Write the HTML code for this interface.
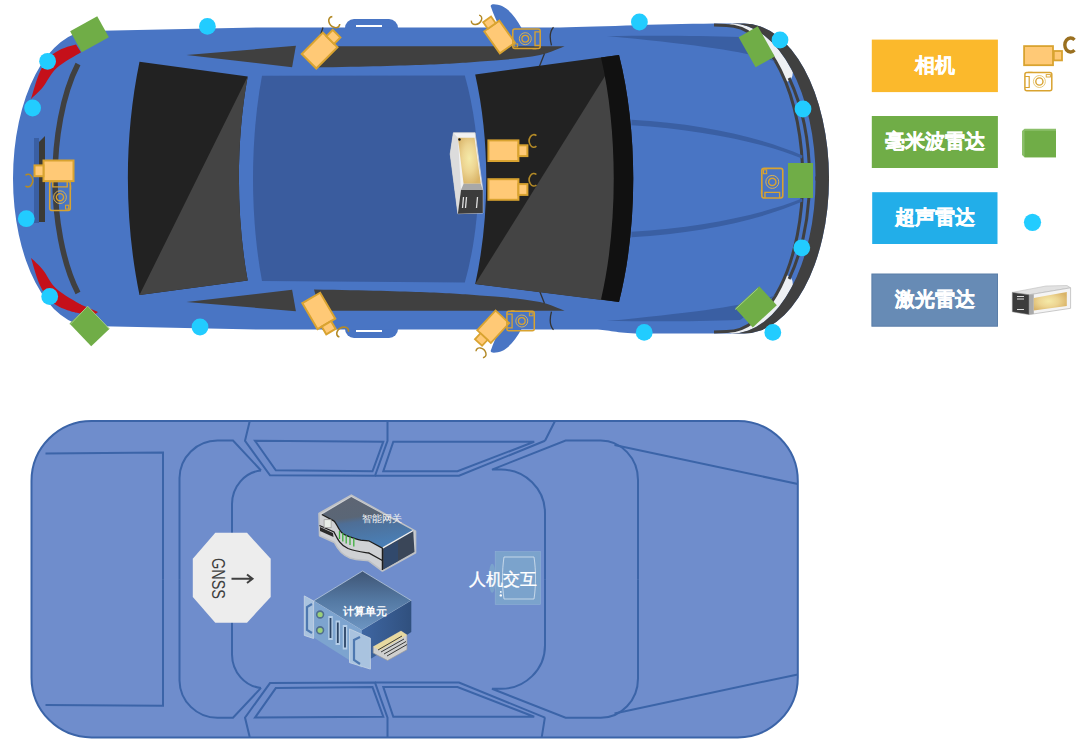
<!DOCTYPE html>
<html><head><meta charset="utf-8">
<style>
html,body{margin:0;padding:0;background:#fff;width:1080px;height:745px;overflow:hidden}
svg{position:absolute;left:0;top:0;display:block}
.lg{position:absolute;color:#fff;font-family:"Liberation Sans",sans-serif;font-weight:bold;font-size:19px;display:flex;align-items:center;justify-content:center}
</style></head><body>
<svg width="1080" height="745" viewBox="0 0 1080 745" font-family="Liberation Sans, sans-serif">
<defs>
<path id="bodyp" d="M90,31 L260,27.4 L560,27.4 C600,26.6 670,23.4 725,23.4 L744,23.4 A85,155.1 0 0 1 829,178.5 A85,155.1 0 0 1 744,333.6 L640,333.6 C615,333.4 610,329.8 595,329.6 L260,329.6 L90,326 A77,147.5 0 0 1 13,178.5 A77,147.5 0 0 1 90,31 Z"/>

<g id="vcam">
  <rect x="-15" y="-10.3" width="30" height="20.6" fill="#FFC976" stroke="#D9A330" stroke-width="2"/>
  <rect x="15" y="-5.4" width="9" height="10.8" fill="#FFC976" stroke="#D9A330" stroke-width="2"/>
  <path d="M33,-15 A4.6,6.3 0 1 0 33,-4.5" fill="none" stroke="#B38A27" stroke-width="1.6"/>
</g>
<g id="pcam" fill="none" stroke="#D9A330">
  <rect x="-13.7" y="-9.7" width="27.4" height="19.4" rx="2" stroke-width="1.5"/>
  <circle cx="-1.2" cy="0" r="6" stroke-width="0.9" stroke="#DDB455"/>
  <circle cx="-1.2" cy="0" r="3.4" stroke-width="1.3"/>
  <path d="M13.7,-6.8 h-5.2 v13.6 h5.2" stroke-width="1.3"/>
  <rect x="-12.4" y="5.2" width="3.6" height="3" stroke-width="1"/>
  <path d="M6,10 h4" stroke-width="1.2"/>
</g>
</defs>
<!-- mirrors -->
<path id="mirr" d="M491,7 C489,3 497,4 502,6 C510,10 516,18 521.5,28 L500,28 C496,20 493,13 491,7 Z" fill="#4975C4"/>
<use href="#mirr" transform="translate(0,357) scale(1,-1)"/>
<!-- door handle bumps -->
<rect x="345" y="19" width="53" height="20" rx="9" fill="#4975C4"/>
<rect x="345" y="318" width="53" height="20" rx="9" fill="#4975C4"/>
<line x1="356" y1="26" x2="382" y2="26" stroke="#fff" stroke-width="2"/>
<line x1="356" y1="331" x2="382" y2="331" stroke="#fff" stroke-width="2"/>
<!-- body -->
<use href="#bodyp" fill="#4975C4"/>
<g id="fronthalf">
  <path d="M726.6,25.4 L732,23.4 A83.6,155.1 0 0 1 792.8,72 Q793,81 785.6,82 A76.1,153.1 0 0 0 726.6,25.4 Z" fill="#EEF0F3"/>
  <path d="M744,23.4 A85,155.1 0 0 1 829,178.5 L815.6,178.5 A83.6,155.1 0 0 0 732,23.4 Z" fill="#404040"/>
  <path d="M714,25 L726.6,25.4 A76.1,153.1 0 0 1 802.7,178.5" fill="none" stroke="#404040" stroke-width="3"/>
  <path d="M789.1,78 A83.5,153.5 0 0 1 809.5,178.5" fill="none" stroke="#404040" stroke-width="3"/>
  <path d="M607,36 C650,35.5 700,35.5 740,37 L776,62 C750,52 700,45 607,36 Z" fill="#3A5FA3"/>
  <path d="M631.5,119.8 C700,123.5 760,137 802.5,155.4 L802,158.4 C760,141.5 700,129.5 631.5,125.2 Z" fill="#3A5FA3"/>
</g>
<use href="#fronthalf" transform="translate(0,357) scale(1,-1)"/>
<path d="M815.3,176.5 h13.4 v4 h-13.4 Z M801.2,176.5 h3 v4 h-3 Z M808,176.5 h3 v4 h-3 Z" fill="#404040"/>
<!-- rear dark stripe -->
<path d="M78,64 C62,95 55,140 55,178.5 C55,217 62,262 78,293" fill="none" stroke="#404040" stroke-width="5.5"/>
<!-- red tail lights -->
<path id="redl" d="M76,44.6 C69,46.1 59.7,49.2 53.7,53.6 C47.8,58 44.1,63.4 40.3,71 C36.5,78.6 32.5,94.5 30.9,99.2 C32.9,97.2 38.8,92.2 43,87.1 C47.2,81.9 50.1,74.1 56.4,68.3 C62.7,62.5 76.9,55 81,52.3 Z" fill="#C5101A"/>
<use href="#redl" transform="translate(0,357) scale(1,-1)"/>
<path d="M70,311 L92,316.5 L98,312 L80,304.3 Z" fill="#C5101A"/>
<!-- rear license recess -->
<rect x="34" y="138" width="5" height="85" fill="#3A5FA3"/>
<path d="M39,142 L45,136 L45,222 L39,222 Z" fill="#3B3A36"/>
<!-- rear window -->
<path d="M139.5,61.8 L247.7,76.5 C236,140 236,217 247.7,280.6 L139.5,294.9 C124,220 124,137 139.5,61.8 Z" fill="#222"/>
<path d="M139.5,294.9 L247.7,76.5 C236,140 236,217 247.7,280.6 Z" fill="#444"/>
<!-- roof -->
<path d="M262,75.7 L464.8,75.5 C483,140 483,217 464.8,282.6 L262,281 C250,217 250,140 262,75.7 Z" fill="#3A5C9E"/>
<!-- side windows -->
<path id="rwin" d="M186.5,55 L295.9,45.8 L292.1,67.3 Z" fill="#404040"/>
<use href="#rwin" transform="translate(0,357) scale(1,-1)"/>
<path id="fwin" d="M320,46.3 L564.6,46.3 C555,50 548,53.5 540,55 C520,59 500,60 480,61.4 C450,64 420,65.5 314,67.4 Z" fill="#404040"/>
<path id="seam" d="M553.5,27.2 C550,31 549.5,38 551.5,45.3 M544.5,53.4 L539.4,66.5 M323,27.5 L320.8,34" fill="none" stroke="#333" stroke-width="1.3"/>
<use href="#fwin" transform="translate(0,357) scale(1,-1)"/><use href="#seam" transform="translate(0,357) scale(1,-1)"/>
<!-- windshield -->
<path d="M475.2,74.5 L619,55 C638,130 638,227 619,302 L475.2,284 C490,217 490,140 475.2,74.5 Z" fill="#222"/>
<path d="M475.2,284 L605,76 C620,140 620,217 602,300 Z" fill="#444"/>
<path d="M601,57.5 L619,55 C638,130 638,227 619,302 L601,299.5 C618,227 618,130 601,57.5 Z" fill="#111"/>


<!-- ===== sensors top car ===== -->
<g fill="#22CCFF">
<circle cx="47.6" cy="61.3" r="8.4"/><circle cx="32.6" cy="108" r="8.4"/>
<circle cx="26.3" cy="218.7" r="8.4"/><circle cx="49.7" cy="296.5" r="8.4"/>
<circle cx="207.4" cy="26.4" r="8.4"/><circle cx="200" cy="327" r="8.4"/>
<circle cx="639.4" cy="22" r="8.4"/><circle cx="644.2" cy="332.4" r="8.4"/>
<circle cx="780" cy="40" r="8.4"/><circle cx="803" cy="109" r="8.4"/>
<circle cx="801.8" cy="247.8" r="8.4"/><circle cx="772.8" cy="332.4" r="8.4"/>
</g>
<g fill="#70AD47">
<rect x="-15.5" y="-12" width="31" height="24" transform="translate(89.5,34.3) rotate(-29)"/>
<rect x="-15.7" y="-12.5" width="31.5" height="25" transform="translate(89.4,326.2) rotate(46.5)"/>
<rect x="-17.3" y="-11" width="34.6" height="22" transform="translate(756.7,46.8) rotate(60.6)"/>
<rect x="788" y="163" width="25" height="35"/>
<rect x="-16.3" y="-13" width="32.6" height="26" transform="translate(756,306.8) rotate(-42.5)"/>
</g>
<path d="M70.2,324.5 L87.6,306.2 L109.6,329" fill="none" stroke="#A8D08A" stroke-width="0.9"/>
<path d="M735.2,309.5 L757.8,288.5" fill="none" stroke="#A8D08A" stroke-width="0.9"/>
<use href="#vcam" transform="translate(58.5,170.8) rotate(180)"/>
<use href="#pcam" transform="translate(60,195.9) rotate(-90) scale(1.06)"/>
<use href="#vcam" transform="translate(319.6,50.6) rotate(-45)"/>
<use href="#vcam" transform="translate(318.8,310.9) rotate(59.6)"/>
<use href="#vcam" transform="translate(499.6,37) rotate(-125.4) scale(0.9)"/>
<use href="#vcam" transform="translate(493.2,326.7) rotate(132.8) scale(0.9)"/>
<use href="#pcam" transform="translate(526.5,38.7)"/>
<use href="#pcam" transform="translate(520.6,321) rotate(180)"/>
<use href="#pcam" transform="translate(772.3,183.2) rotate(90) scale(1.08)"/>
<use href="#vcam" transform="translate(503.4,150.7)"/>
<use href="#vcam" transform="translate(503.4,189.5)"/>
<!-- lidar on roof -->
<defs>
 <radialGradient id="lidy" cx="0.5" cy="0.45" r="0.6">
  <stop offset="0" stop-color="#F5EAA8"/><stop offset="0.5" stop-color="#EDD592"/><stop offset="1" stop-color="#D9B468"/>
 </radialGradient>
 <radialGradient id="lidy2" cx="0.45" cy="0.5" r="0.6">
  <stop offset="0" stop-color="#F5EAA8"/><stop offset="0.5" stop-color="#EDD592"/><stop offset="1" stop-color="#D9B468"/>
 </radialGradient>
</defs>
<g>
 <path d="M453.4,132.7 L475.1,132.7 L482.8,190 L482.8,213 L457.9,213.7 L450.2,154 Z" fill="#F2F2F2" stroke="#D0D0D0" stroke-width="0.8"/>
 <path d="M453.4,132.7 L457.9,137.8 L461,190 L457.9,213.7 L450.2,154 Z" fill="#DCDCDC"/>
 <path d="M457.9,137.8 L474.5,137.8 L480.8,183.7 L463.6,183.7 Z" fill="url(#lidy)"/>
 <path d="M463.6,183.7 L480.8,183.7 L482.8,190 L461,190 Z" fill="#A8A8A8"/>
 <path d="M461,190 L482.8,190 L482.8,213 L457.9,213.7 Z" fill="#3C3C3C"/>
 <path d="M463.5,197 L462.5,208 M466.5,197 L465.5,208 M477.5,197 L476.5,208" stroke="#E0E0E0" stroke-width="1.3"/>
 <circle cx="459.5" cy="139.5" r="1.2" fill="#111"/>
</g>
<!-- ===== legend ===== -->
<rect x="871.8" y="39.6" width="126.1" height="52.5" fill="#FBB92C"/>
<rect x="871.8" y="116" width="126.1" height="52" fill="#70AD47"/>
<rect x="872.2" y="192.2" width="125.3" height="51.8" fill="#22AEE9"/>
<rect x="871.9" y="274" width="125.6" height="52.2" fill="#678BB5" stroke="#5A7EA8" stroke-width="1"/>
<g fill="#fff" font-weight="bold" font-size="20.2" text-anchor="middle" stroke="#fff" stroke-width="0.4">
<text x="934.8" y="71.5">相机</text>
<text x="934.8" y="148">毫米波雷达</text>
<text x="934.8" y="224">超声雷达</text>
<text x="934.8" y="306">激光雷达</text>
</g>
<rect x="1024.1" y="46.1" width="28.9" height="19.1" fill="#FFC976" stroke="#D9A330" stroke-width="1.8"/>
<rect x="1053.8" y="51" width="8.2" height="9.4" fill="#FFC976" stroke="#D9A330" stroke-width="1.8"/>
<path d="M1074.5,39.8 A5.8,7 0 1 0 1074.5,50.2" fill="none" stroke="#9A7020" stroke-width="3.4"/>
<g fill="none" stroke="#D9A330">
 <rect x="1024.9" y="72.6" width="26.9" height="18.2" rx="2" stroke-width="1.5"/>
 <circle cx="1039.4" cy="81.5" r="6" stroke-width="0.8" stroke="#E2BC60"/>
 <circle cx="1039.4" cy="81.5" r="3.6" stroke-width="1.4"/>
 <path d="M1025,76.5 h4.2 v11 h-4.2" stroke-width="1.2"/>
 <rect x="1046.2" y="74.6" width="4.2" height="2.4" stroke-width="0.9"/>
 <path d="M1028,72.3 h4.5" stroke-width="1"/>
</g>
<path d="M1022,131 L1024.5,128.8 L1056,128.8 L1056,157.3 L1024.5,157.3 L1022,155 Z" fill="#8BBF6A"/>
<rect x="1024.5" y="130.8" width="31.5" height="26.5" fill="#70AD47"/>
<circle cx="1032.5" cy="222.3" r="8.6" fill="#22CCFF"/>
<g>
 <path d="M1012.3,292.4 L1046,286 L1067,285.5 L1070.6,287.8 L1029,294.8 Z" fill="#E2E2E2" stroke="#BDBDBD" stroke-width="0.6"/>
 <path d="M1029,294.8 L1070.6,287.8 L1070.6,308.3 L1029,314.6 Z" fill="#F4F4F4" stroke="#BDBDBD" stroke-width="0.8"/>
 <path d="M1029,294.8 L1033.8,294.2 L1033.8,314 L1029,314.6 Z" fill="#AAAAAA"/>
 <path d="M1033.8,298 L1066.8,292 L1066.8,306 L1033.8,310.4 Z" fill="url(#lidy2)"/>
 <path d="M1012.3,292.4 L1029,294.8 L1029,314.6 L1012.3,311.8 Z" fill="#3C3C3C" stroke="#888" stroke-width="0.5"/>
 <path d="M1017,296.5 h7 M1017,299 h7 M1017,309.5 h7" stroke="#ddd" stroke-width="1.2"/>
</g>
<!-- ============ BOTTOM CAR ============ -->
<rect x="31.5" y="421" width="766.3" height="316.4" rx="60" ry="60" fill="#6F8DCC" stroke="#3B64A8" stroke-width="2"/>
<g id="bhalf" fill="none" stroke="#3B64A8" stroke-width="2" stroke-linejoin="miter">
  <path d="M45.5,453.4 L163,452.6 L163,579.2"/>
  <path d="M179.5,579.2 L179.5,478 A38,38 0 0 1 217.5,440.6 L233,440.6 L261,470.5"/>
  <path d="M232,579.2 L232,504 A32,34 0 0 1 261,470.5"/>
  <path d="M249.7,421.3 L245,440.8 L270,475.3 L375,475.8 L387.5,440.8 L387.5,421.3"/>
  <path d="M255,440.8 L383.3,441.7 L372.5,471.3 L275.8,470.3 Z"/>
  <path d="M393.3,441.7 L534.2,441.7 L457.5,471.3 L383.3,471.3 Z"/>
  <path d="M545,440.8 L459,475.8 L375,475.8"/>
  <path d="M545,579.2 L545,513 A44,43.4 0 0 0 501,469.6 L492,469.6 L565.6,440.6 L600.7,440.6 A37.3,39.4 0 0 1 638,480 L638,579.2"/>
  <path d="M614.5,445 L797.8,484"/>
</g>
<use href="#bhalf" transform="translate(0,1158.4) scale(1,-1)"/>
<path d="M555,421 L545,440.8 M544.9,717.4 L541.7,737.4" fill="none" stroke="#3B64A8" stroke-width="2"/>
<!-- GNSS -->
<polygon points="215.3,532.8 247,532.8 270.7,558.8 270.7,596.9 247,622.7 215.3,622.7 192.8,596.9 192.8,558.8" fill="#EDEDED"/>
<g transform="translate(217.8,578.5) rotate(90)">
<text x="0" y="6" text-anchor="middle" font-size="17.5" fill="#404040" textLength="41" lengthAdjust="spacingAndGlyphs">GNSS</text>
</g>
<path d="M231.5,578.8 L252,578.8 M247,574.5 L252.5,578.8 L247,583" fill="none" stroke="#404040" stroke-width="2"/>

<!-- gateway -->
<defs>
 <linearGradient id="gwtop" x1="0" y1="0" x2="0.25" y2="1">
  <stop offset="0" stop-color="#5E6573"/><stop offset="0.45" stop-color="#5A6676"/><stop offset="0.55" stop-color="#4E6E96"/><stop offset="1" stop-color="#4A7EB4"/>
 </linearGradient>
 <linearGradient id="cutop" x1="0" y1="0" x2="0" y2="1">
  <stop offset="0" stop-color="#3F5575"/><stop offset="0.5" stop-color="#5479A3"/><stop offset="1" stop-color="#6D95C2"/>
 </linearGradient>
 <linearGradient id="curight" x1="0" y1="0" x2="1" y2="0">
  <stop offset="0" stop-color="#3E66A2"/><stop offset="1" stop-color="#30507E"/>
 </linearGradient>
</defs>
<g>
 <path d="M351.3,495.1 L319,513.4 L319.6,535.7 L334.4,542.5 C338,550 342,555 350,558 C358,560.5 364,560 368.7,560.8 L382.4,571 L415.5,552.8 L415.5,531.1 Z" fill="#CFD1D4" stroke="#BEC1C5" stroke-width="1.6" stroke-linejoin="round"/>
 <path d="M351.3,497 L413.2,530.5 L382.4,548.2 L368.7,540.8 C365,540 362,540.5 360.7,540.2 C350,537 344,536 341.3,532.2 C337,527 336,522 333.8,520.8 L321.8,514.5 Z" fill="url(#gwtop)"/>
 <path d="M382.4,548.2 L413.2,530.5 L414.5,552 L382.4,570 Z" fill="#3A4658"/>
 <path d="M384,549 L398,541 L398,561 L384,569 Z" fill="#2F4A72" opacity="0.8"/>
 <path d="M382.4,548.2 L413.2,530.5" stroke="#F0F0F0" stroke-width="1.4"/>
 <path d="M321.8,514.5 L333.8,520.8 C336,522 337,527 341.3,532.2 C344,536 350,537 360.7,540.2 C362,540.5 365,540 368.7,540.8 L382.4,548.2 L382.4,570" fill="none" stroke="#1E1E1E" stroke-width="1.3"/>
 <path d="M319.5,525.5 L334,532 C337,538 340,545 348,548.5 C356,551.5 362,552 368.7,553 L382.4,560.5" fill="none" stroke="#1E1E1E" stroke-width="1.3"/>
 <path d="M320,527 L333,533 L333.5,537 L320,531 Z" fill="#2A2A2A"/>
 <path d="M339.5,531 v8 M342.8,533 v8.5 M346.2,535 v8.5 M350,536.5 v8.5 M353.8,538 v8.5" stroke="#3DAF3D" stroke-width="1.3"/>
 <rect x="324.1" y="519.7" width="7" height="8" fill="#E8EEE8" stroke="#999" stroke-width="0.7"/>
 <text x="382" y="521.8" font-size="10.3" fill="#F2F2F2" text-anchor="middle">智能网关</text>
</g>
<!-- compute unit -->
<g>
 <path d="M362.5,571 L313.6,600.9 L361.7,630.3 L411.3,600.6 Z" fill="url(#cutop)" stroke="#B5C6DA" stroke-width="0.8"/>
 <path d="M361.7,630.3 L411.3,600.6 L411.3,632 L371.8,658.3 L361.7,660 Z" fill="url(#curight)"/>
 <path d="M313.6,600.9 L361.7,630.3 L361.7,668 L313.6,637.5 Z" fill="#7DA4CF"/>
 <path d="M304.3,595.9 L313.6,601 L313.6,638.5 L304.3,635.4 Z" fill="#A9C3DF" stroke="#C9D7E6" stroke-width="0.8"/>
 <path d="M312,604 L307,607 L307,630 L312,633" fill="none" stroke="#4D78B0" stroke-width="2.2"/>
 <path d="M349.5,628.9 L370.4,638.2 L370.4,669.1 L349.5,662.6 Z" fill="#A9C3DF" stroke="#C9D7E6" stroke-width="0.8"/>
 <path d="M360,637 L354,640 L354,660 L360,664" fill="none" stroke="#4D78B0" stroke-width="2.2"/>
 <circle cx="320.1" cy="614.5" r="3.4" fill="#9BD07A" stroke="#4F6E8E" stroke-width="1.6"/>
 <circle cx="320.1" cy="630.3" r="3.4" fill="#9BD07A" stroke="#4F6E8E" stroke-width="1.6"/>
 <g stroke="#B4CDE8" stroke-width="4.5"><path d="M330.5,616 L330.5,640 M337.8,620.5 L337.8,645 M345,625 L345,649.5"/></g>
 <g stroke="#2C4566" stroke-width="1.8"><path d="M330.5,618 L330.5,638 M337.8,622.5 L337.8,643 M345,627 L345,647.5"/></g>
 <path d="M373.2,646.8 L401,631 L407,635 L407,649.7 L387.6,660.5 L373.2,653 Z" fill="#CFCFCF" stroke="#9A9A9A" stroke-width="0.7"/>
 <path d="M373.2,646.8 L401,631 L407,635 L380,650.5 Z" fill="#E8D9A0"/>
 <path d="M378,650 L402,636 M381,652 L404,639 M384,654 L406,641.5 M387,656 L407,644.5" stroke="#3A3A3A" stroke-width="1"/>
 <text x="364.6" y="615.3" font-size="10.5" font-weight="bold" fill="#fff" text-anchor="middle">计算单元</text>
</g>
<!-- HMI -->
<g>
 <rect x="495.2" y="551.6" width="45.2" height="52.9" fill="#7BA3CC" stroke="#8FB0D4" stroke-width="0.6"/>
 <ellipse cx="492.2" cy="578.3" rx="3.5" ry="14.5" fill="#7BA3CC"/>
 <path d="M504,557 L534,557 C536,570 536,586 534,599 L504,599 C502,586 502,570 504,557 Z" fill="none" stroke="#D8E4F0" stroke-width="0.8"/>
 <circle cx="500.8" cy="591.9" r="0.9" fill="#fff"/><circle cx="500.8" cy="595.4" r="1.2" fill="#fff"/>
 <text x="502.5" y="585" font-size="17" fill="#fff" text-anchor="middle" font-weight="500" stroke="#fff" stroke-width="0.3">人机交互</text>
</g>
</svg>
</body></html>
